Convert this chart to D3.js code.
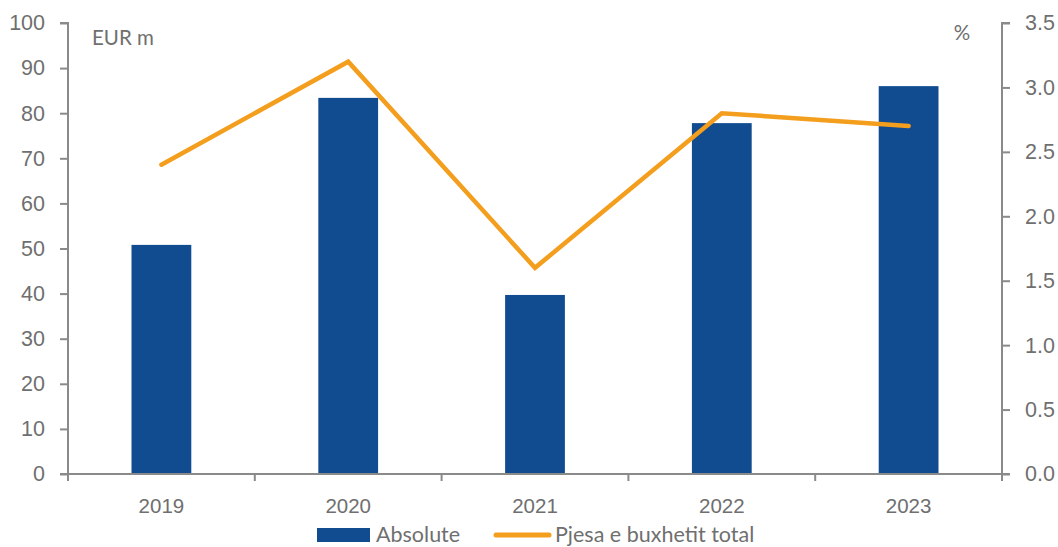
<!DOCTYPE html>
<html>
<head>
<meta charset="utf-8">
<script src="https://cdn.jsdelivr.net/npm/d3@7"></script>
<style>
  body { margin: 0; background: #fff; }
  svg { display: block; font-family: Lato, "Open Sans", sans-serif; }
</style>
</head>
<body>
<svg id="chart" width="1058" height="547"></svg>
<script>
// Annual figures: absolute amount (EUR m) and share of total budget (%)
const years = ["2019", "2020", "2021", "2022", "2023"];
const absolute = [50.8, 83.4, 39.7, 77.8, 86.0];
const share = [2.4, 3.2, 1.6, 2.8, 2.7];
const leftTicks = [0, 10, 20, 30, 40, 50, 60, 70, 80, 90, 100];
const rightTicks = [0, 0.5, 1.0, 1.5, 2.0, 2.5, 3.0, 3.5];
const seriesNames = ["Absolute", "Pjesa e buxhetit total"];

const barColor = "#114C90";
const lineColor = "#F49E1E";
const axisColor = "#8a8a8a";
const textColor = "#6f6f6f";
const fontSize = 21.5;

const svg = d3.select("#chart");
const plot = { left: 68, right: 1002, top: 23, bottom: 474 };

const x = d3.scaleBand().domain(years).range([plot.left, plot.right]).paddingInner(0).paddingOuter(0);
const yL = d3.scaleLinear().domain([0, 100]).range([plot.bottom, plot.top]);
const yR = d3.scaleLinear().domain([0, 3.5]).range([plot.bottom, plot.top]);

// Bars
const barW = x.bandwidth() * 0.32;
svg.append("g").selectAll("rect").data(years).join("rect")
  .attr("x", d => x(d) + x.bandwidth() / 2 - barW / 2)
  .attr("y", (d, i) => yL(absolute[i]))
  .attr("width", barW)
  .attr("height", (d, i) => yL(0) - yL(absolute[i]))
  .attr("fill", barColor);

// Left axis
const gL = svg.append("g").attr("transform", `translate(${plot.left},0)`)
  .call(d3.axisLeft(yL).tickValues(leftTicks).tickSize(8).tickPadding(15).tickFormat(d3.format("d")));

// Right axis
const gR = svg.append("g").attr("transform", `translate(${plot.right},0)`)
  .call(d3.axisRight(yR).tickValues(rightTicks).tickSize(8).tickPadding(15).tickFormat(d3.format(".1f")));

// Bottom axis with ticks at category boundaries
const gB = svg.append("g").attr("transform", `translate(0,${plot.bottom})`)
  .call(d3.axisBottom(x).tickSize(0).tickPadding(24));
const bounds = years.map(d => x(d)).concat([plot.right]);
gB.selectAll(".bound").data(bounds).join("line")
  .attr("class", "bound")
  .attr("x1", d => d).attr("x2", d => d)
  .attr("y1", 0).attr("y2", 7)
  .attr("stroke", axisColor).attr("stroke-width", 2);

[gL, gR, gB].forEach(g => {
  g.select(".domain").attr("stroke", axisColor).attr("stroke-width", 2);
  g.selectAll(".tick line").attr("stroke", axisColor).attr("stroke-width", 2);
  g.selectAll(".tick text").attr("fill", textColor).attr("font-size", fontSize);
});
gB.selectAll(".tick text").attr("font-size", 20.5);
gL.select(".domain").attr("d", `M-8,${plot.top}H0V${plot.bottom}`);
gR.select(".domain").attr("d", `M8,${plot.top}H0V${plot.bottom}`);
gB.select(".domain").attr("d", `M${plot.left - 8},0H${plot.right + 8}`);

// Share line
const line = d3.line()
  .x((d, i) => x(years[i]) + x.bandwidth() / 2)
  .y(d => yR(d));
svg.append("path").datum(share)
  .attr("d", line)
  .attr("fill", "none")
  .attr("stroke", lineColor)
  .attr("stroke-width", 4.5)
  .attr("stroke-linecap", "round")
  .attr("stroke-linejoin", "miter");

// Unit labels
svg.append("text").attr("x", 92).attr("y", 45).attr("fill", textColor)
  .attr("font-size", 20.5).text("EUR m");
svg.append("text").attr("x", 962).attr("y", 40).attr("fill", textColor)
  .attr("text-anchor", "middle").attr("font-size", 20.5).text("%");

// Legend
const lg = svg.append("g");
lg.append("rect").attr("x", 317).attr("y", 528).attr("width", 53).attr("height", 14).attr("fill", barColor);
lg.append("text").attr("x", 376).attr("y", 542).attr("fill", textColor).attr("font-size", fontSize).text(seriesNames[0]);
lg.append("line").attr("x1", 496).attr("x2", 549).attr("y1", 535).attr("y2", 535)
  .attr("stroke", lineColor).attr("stroke-width", 5).attr("stroke-linecap", "round");
lg.append("text").attr("x", 555).attr("y", 542).attr("fill", textColor).attr("font-size", fontSize).text(seriesNames[1]);
</script>
</body>
</html>
